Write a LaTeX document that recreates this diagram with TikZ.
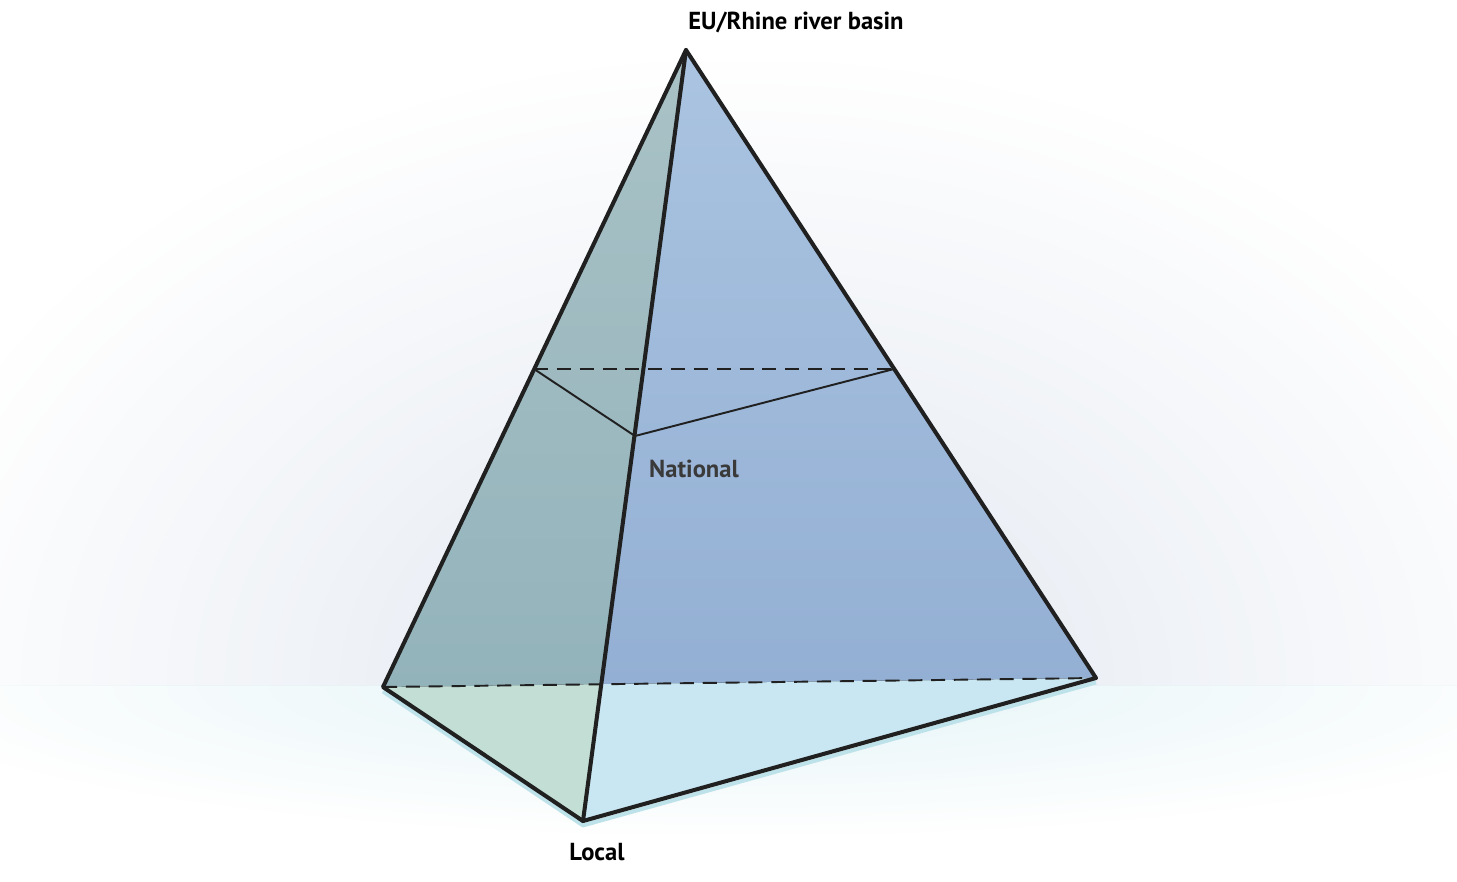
\documentclass[tikz,border=0pt]{standalone}
\usepackage{fontspec}
\setmainfont{PT Sans}
\usetikzlibrary{fadings}

\definecolor{edgeblack}{HTML}{202020}
\definecolor{bandblue}{HTML}{E1E7F0}
\definecolor{floorcyan}{HTML}{E4F4F7}
\definecolor{leftTop}{HTML}{A9C2C6}
\definecolor{leftBottom}{HTML}{93B3BB}
\definecolor{rightTop}{HTML}{AAC4E1}
\definecolor{rightBottom}{HTML}{93AFD3}
\definecolor{leftFloor}{HTML}{C3DED4}
\definecolor{rightFloor}{HTML}{C9E7F2}
\definecolor{floorShadow}{HTML}{BDE2EA}
\definecolor{labelGray}{HTML}{3A3A3A}

\tikzstyle{edge} = [
    draw = edgeblack,
    line width = 2.3pt,
    line join = round,
    line cap = round
]
\tikzstyle{cut} = [
    draw = edgeblack,
    line width = 1.1pt
]
\tikzstyle{hidden} = [
    cut,
    dash pattern = on 8pt off 5pt
]
\tikzstyle{level} = [
    font = \bfseries\fontsize{14}{16}\selectfont,
    text = black,
    inner sep = 0pt
]

\tikzfading[name = glow, inner color = transparent!0, outer color = transparent!100]
\tikzfading[name = midfade, left color = transparent!100, middle color = transparent!0, right color = transparent!100]

\begin{document}
\begin{tikzpicture}[x = 0.02cm, y = -0.02cm]

    % background
    \fill [white] (0,0) rectangle (1457,882);
    \begin{scope}
        \clip (0,60) rectangle (1457,685);
        \fill [bandblue, path fading = glow] (-120,60) rectangle (1600,1310);
    \end{scope}
    \begin{scope}
        \clip (0,685) rectangle (1457,882);
        \fill [floorcyan, path fading = glow] (-120,535) rectangle (1600,835);
    \end{scope}
    \fill [white, path fading = midfade, opacity = 0.9] (140,368.5) rectangle (1240,371.5);

    % vertices
    \coordinate (apex) at (686,50);
    \coordinate (left) at (383,687);
    \coordinate (front) at (583,821);
    \coordinate (right) at (1096,678);
    \coordinate (cross) at (601,684);

    % national cut
    \coordinate (natL) at (534,369);
    \coordinate (natM) at (635,436);
    \coordinate (natR) at (894,369);

    % faces
    \fill [leftFloor] (left) -- (front) -- (cross) -- cycle;
    \fill [rightFloor] (cross) -- (front) -- (right) -- cycle;
    \fill [top color = leftTop, bottom color = leftBottom] (apex) -- (left) -- (cross) -- cycle;
    \fill [top color = rightTop, bottom color = rightBottom] (apex) -- (cross) -- (right) -- cycle;

    % shadow below the base
    \draw [floorShadow, line width = 2.3pt, line join = round]
        ([yshift = -2.5pt]left) -- ([yshift = -2.5pt]front) -- ([yshift = -2.5pt]right);

    % hidden edges
    \draw [hidden] (left) -- (right);
    \draw [hidden] (natL) -- (natR);
    \draw [cut] (natL) -- (natM) -- (natR);

    % visible edges
    \draw [edge] (apex) -- (left) -- (front) -- (right) -- cycle;
    \draw [edge] (apex) -- (front);

    % labels
    \node [level] (euLabel) at (796,22) {EU/Rhine river basin};
    \node [level, text = labelGray] (nationalLabel) at (694,469) {National};
    \node [level] (localLabel) at (597,852) {Local};

\end{tikzpicture}
\end{document}
